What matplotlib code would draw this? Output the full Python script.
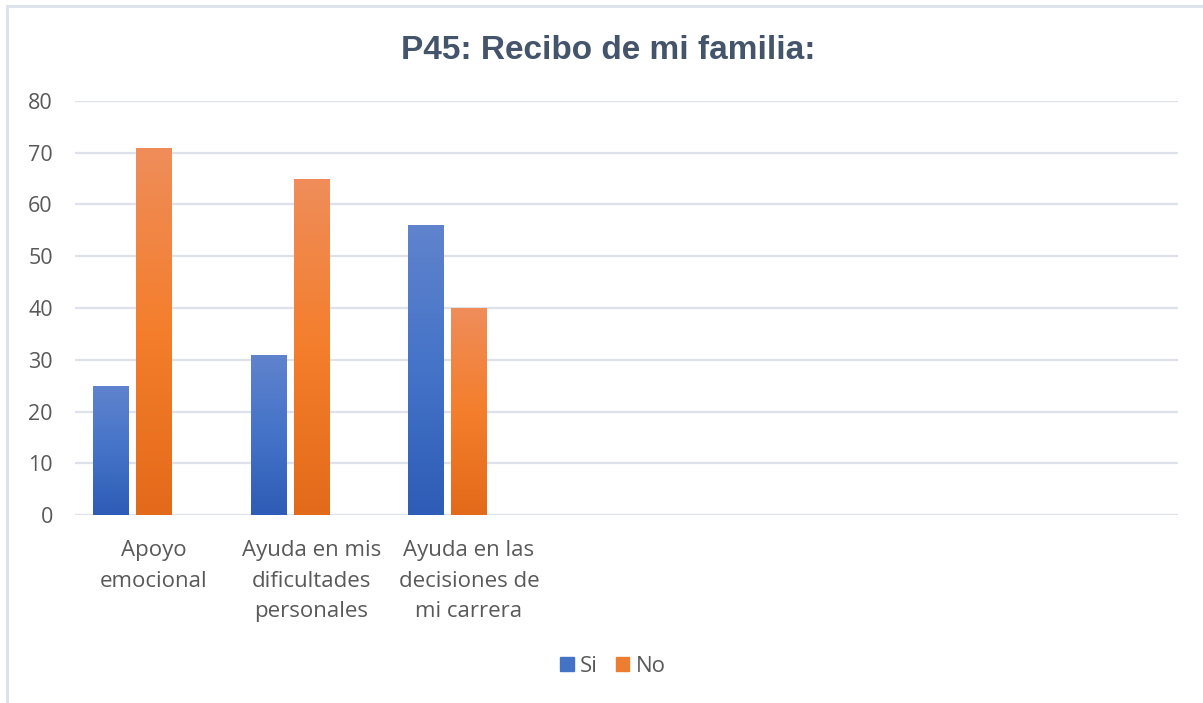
import matplotlib
matplotlib.use("Agg")
import matplotlib.pyplot as plt
import numpy as np
from matplotlib.colors import LinearSegmentedColormap
from matplotlib.patches import Rectangle
from matplotlib.lines import Line2D

categories = ["Apoyo\nemocional", "Ayuda en mis\ndificultades\npersonales",
              "Ayuda en las\ndecisiones de\nmi carrera", "", "", "", ""]
si_values = [25, 31, 56]
no_values = [71, 65, 40]
series_names = ["Si", "No"]
yticks = [0, 10, 20, 30, 40, 50, 60, 70, 80]

W, H = 1203, 703
fig = plt.figure(figsize=(W / 100, H / 100), dpi=100)
fig.patch.set_facecolor("white")

# chart border (top and left visible)
fig.add_artist(Line2D([7 / W, 1.0], [1 - 6 / H, 1 - 6 / H], transform=fig.transFigure,
                      color="#DEE3EB", lw=2.2))
fig.add_artist(Line2D([7 / W, 7 / W], [0.0, 1 - 6 / H], transform=fig.transFigure,
                      color="#DEE3EB", lw=2.2))

left, right, top, bottom = 75, 1178, 101, 515
ax = fig.add_axes([left / W, 1 - bottom / H, (right - left) / W, (bottom - top) / H])
ax.set_facecolor("none")

n = len(categories)
x = np.arange(n)
bw = 35 / 157.5
step = 43 / 157.5

blue_cmap = LinearSegmentedColormap.from_list("b", ["#2E5CB6", "#4473C8", "#6083CD"])
orange_cmap = LinearSegmentedColormap.from_list("o", ["#E36A1A", "#F47E2C", "#EF8D5A"])

bars_si = ax.bar(x[:len(si_values)] - step, si_values, bw, color="#4472C4", zorder=3)
bars_no = ax.bar(x[:len(no_values)], no_values, bw, color="#ED7D31", zorder=3)

grad = np.linspace(0, 1, 256).reshape(-1, 1)
for bars, cmap in [(bars_si, blue_cmap), (bars_no, orange_cmap)]:
    for b in bars:
        x0, y0 = b.get_x(), b.get_y()
        w, h = b.get_width(), b.get_height()
        im = ax.imshow(grad, cmap=cmap, origin="lower", aspect="auto",
                       extent=[x0, x0 + w, y0, y0 + h], zorder=4)
        im.set_clip_path(b)
        b.set_edgecolor("white")
        b.set_linewidth(0.8)

ax.set_xlim(-0.5, n - 0.5)
ax.set_ylim(0, 80)
ax.set_yticks(yticks)
ax.yaxis.grid(True, color="#DDE2EA", lw=1.6, zorder=0)
ax.set_axisbelow(True)
for s in ax.spines.values():
    s.set_visible(False)
ax.axhline(0, color="#DDE2EA", lw=1.8, zorder=2)

ax.set_xticks(x)
ax.set_xticklabels(categories, fontsize=16, color="#595959", family="Open Sans",
                   linespacing=1.6)
ax.tick_params(axis="both", length=0)
ax.tick_params(axis="x", pad=18)
ax.tick_params(axis="y", pad=16)
for lab in ax.get_yticklabels():
    lab.set_fontsize(15.5)
    lab.set_color("#595959")
    lab.set_family("Open Sans")

fig.text(608 / W, 1 - 59 / H, "P45: Recibo de mi familia:", ha="center", va="baseline",
         fontsize=24, fontweight="bold", color="#44546A", family="Liberation Sans")

handles = [Rectangle((0, 0), 1, 1, color="#4472C4"), Rectangle((0, 0), 1, 1, color="#ED7D31")]
leg = fig.legend(handles, series_names, loc="center", bbox_to_anchor=(613 / W, 1 - 666 / H),
                 ncol=2, frameon=False, handlelength=0.6, handleheight=0.6,
                 handletextpad=0.3, columnspacing=0.8,
                 prop={"family": "Open Sans", "size": 16})
for t in leg.get_texts():
    t.set_color("#595959")

fig.savefig("out.png", dpi=100, facecolor="white")
